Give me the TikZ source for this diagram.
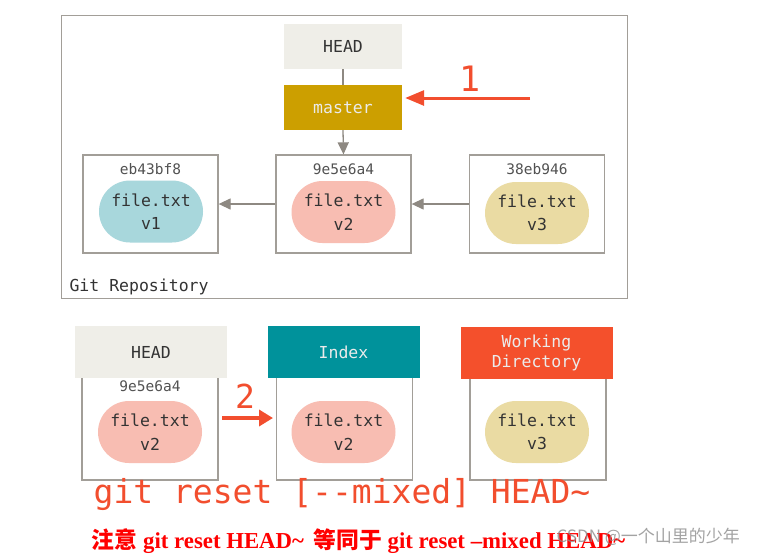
\documentclass[tikz,border=0pt]{standalone}
\usepackage{fontspec}
\setmainfont{Liberation Serif}
\setmonofont{DejaVu Sans Mono}
\newfontfamily\cjk{Noto Sans CJK SC}
\usetikzlibrary{shapes.misc,arrows.meta}
\definecolor{bordergray}{HTML}{A29E98}
\definecolor{arrowgray}{HTML}{8E8982}
\definecolor{headfill}{HTML}{EFEEE8}
\definecolor{masterfill}{HTML}{CC9F00}
\definecolor{indexfill}{HTML}{00929B}
\definecolor{wdfill}{HTML}{F4502C}
\definecolor{gitred}{HTML}{F24E2E}
\definecolor{blobblue}{HTML}{A8D7DC}
\definecolor{blobpink}{HTML}{F8BDB2}
\definecolor{blobyellow}{HTML}{EADBA3}
\definecolor{textdark}{HTML}{333333}
\tikzset{
  mono/.style={font=\ttfamily\fontsize{#1}{#1}\selectfont},
  framebox/.style={draw=bordergray, line width=1.3pt, inner sep=0pt},
  commitbox/.style={framebox, minimum width=135pt, minimum height=98pt},
  lowbox/.style={framebox, minimum width=136pt, minimum height=110pt},
  refbox/.style={inner sep=0pt, minimum width=118pt, minimum height=45pt, mono=16.5},
  areabox/.style={inner sep=0pt, minimum width=152pt, minimum height=52pt, align=center, font=\ttfamily\fontsize{16.5}{19.5}\selectfont},
  blob/.style={rounded rectangle, inner sep=0pt, minimum width=104pt, minimum height=62pt, align=center, text=textdark, font=\ttfamily\fontsize{16.5}{23.5}\selectfont},
  hashlabel/.style={text=textdark!85, mono=14.5},
  grayarrow/.style={draw=arrowgray, line width=1.3pt, -{Triangle[length=12pt,width=11pt]}},
  redarrow/.style={draw=gitred, line width=#1, -{Triangle[length=19pt,width=15pt]}},
}
\begin{document}
\begin{tikzpicture}[x=1pt,y=-1pt]
\useasboundingbox[fill=white] (0,0) rectangle (779,557);

% Git repository frame
\node[framebox, minimum width=566pt, minimum height=283pt, anchor=north west] (repo) at (61,15) {};
\node[anchor=west, text=textdark, mono=16.5] (repolabel) at (66,287) {Git Repository};

% refs
\node[refbox, fill=headfill, text=textdark] (head) at (343,46.5) {HEAD};
\node[refbox, fill=masterfill, text=white!92!black] (master) at (343,107.5) {master};

% commits
\node[commitbox] (c1) at (150.5,204) {};
\node[commitbox] (c2) at (343.5,204) {};
\node[commitbox] (c3) at (537,204) {};
\node[hashlabel] (h1) at (150.5,169) {eb43bf8};
\node[hashlabel] (h2) at (343.5,169) {9e5e6a4};
\node[hashlabel] (h3) at (537,169) {38eb946};
\node[blob, fill=blobblue] (b1) at (151,211.5) {file.txt\\v1};
\node[blob, fill=blobpink] (b2) at (343.5,212) {file.txt\\v2};
\node[blob, fill=blobyellow] (b3) at (537,213) {file.txt\\v3};

\draw[draw=arrowgray, line width=1.3pt] (head.south) -- (master.north);
\draw[grayarrow] (master.south) -- (c2.north);
\draw[grayarrow] (c2.west) -- (c1.east);
\draw[grayarrow] (c3.west) -- (c2.east);

% step 1
\coordinate (r1start) at (530,98);
\draw[redarrow=3pt, shorten >=3pt] (r1start) -- (master.east |- r1start);
\node[text=gitred, mono=35] (one) at (470,79) {1};

% lower area
\node[lowbox] (l1) at (150,425) {};
\node[lowbox] (l2) at (344.5,425) {};
\node[lowbox] (l3) at (538,425) {};
\node[areabox, fill=headfill, text=textdark] (headA) at (151,352) {HEAD};
\node[areabox, fill=indexfill, text=white!92!black] (index) at (343.5,352) {Index};
\node[areabox, fill=wdfill, text=white!92!black] (wd) at (536.5,353) {Working\\Directory};
\node[hashlabel] (lh1) at (150,386) {9e5e6a4};
\node[blob, fill=blobpink] (lb1) at (150,432) {file.txt\\v2};
\node[blob, fill=blobpink] (lb2) at (343.5,432) {file.txt\\v2};
\node[blob, fill=blobyellow] (lb3) at (537,432) {file.txt\\v3};

% step 2
\coordinate (r2start) at (222,418);
\coordinate (r2end) at (273,418);
\draw[draw=gitred, line width=4pt, -{Triangle[length=14pt,width=16pt]}] (r2start) -- (r2end);
\node[text=gitred, mono=33] (two) at (245,396) {2};

% command
\node[text=gitred, mono=33] (cmd) at (342,495) {git reset [--mixed] HEAD\char`\~};

% footer note
\node[text=red, font=\bfseries\fontsize{22.8}{24}\selectfont] (note) at (358.5,541)
  {{\cjk 注意} git reset HEAD\char`\~{}\, {\cjk 等同于} git reset –mixed HEAD\char`\~};
\node[text=black!45, opacity=0.8, font=\cjk\fontsize{17}{19}\selectfont, anchor=west] (wm) at (553,537) {CSDN @一个山里的少年};
\end{tikzpicture}
\end{document}
